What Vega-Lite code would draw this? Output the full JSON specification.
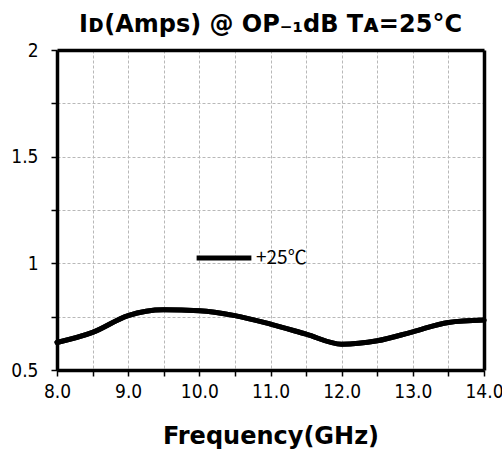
{
  "$schema": "https://vega.github.io/schema/vega-lite/v6.json",
  "width": 427,
  "height": 320,
  "autosize": {"type": "none"},
  "padding": {"left": 57, "top": 50, "right": 18, "bottom": 83},
  "background": "white",
  "title": {
    "text": "Iᴅ(Amps) @ OP₋₁dB Tᴀ=25°C",
    "font": "DejaVu Sans",
    "fontSize": 24,
    "fontWeight": "bold",
    "color": "black",
    "anchor": "middle",
    "offset": 4
  },
  "config": {
    "view": {"stroke": null},
    "axis": {
      "labelFont": "DejaVu Sans Condensed",
      "labelFontSize": 19,
      "labelColor": "black",
      "titleFont": "DejaVu Sans",
      "titleColor": "black",
      "domain": true,
      "domainColor": "black",
      "domainWidth": 3.5,
      "tickColor": "black",
      "tickWidth": 1.5,
      "tickSize": 6,
      "gridColor": "#b8b8b8",
      "gridDash": [3, 2],
      "gridWidth": 1
    }
  },
  "data": {
    "values": [
      {"f": 8.0, "i": 0.629, "s": "+25℃"},
      {"f": 8.5, "i": 0.676, "s": "+25℃"},
      {"f": 9.0, "i": 0.755, "s": "+25℃"},
      {"f": 9.5, "i": 0.782, "s": "+25℃"},
      {"f": 10.0, "i": 0.778, "s": "+25℃"},
      {"f": 10.5, "i": 0.755, "s": "+25℃"},
      {"f": 11.0, "i": 0.715, "s": "+25℃"},
      {"f": 11.5, "i": 0.668, "s": "+25℃"},
      {"f": 12.0, "i": 0.621, "s": "+25℃"},
      {"f": 12.5, "i": 0.637, "s": "+25℃"},
      {"f": 13.0, "i": 0.679, "s": "+25℃"},
      {"f": 13.5, "i": 0.723, "s": "+25℃"},
      {"f": 14.0, "i": 0.734, "s": "+25℃"}
    ]
  },
  "layer": [
    {
      "mark": {"type": "line", "interpolate": "monotone", "strokeWidth": 5, "strokeCap": "round"},
      "encoding": {
        "x": {
          "field": "f",
          "type": "quantitative",
          "scale": {"domain": [8, 14], "nice": false, "zero": false},
          "axis": {
            "values": [8, 8.5, 9, 9.5, 10, 10.5, 11, 11.5, 12, 12.5, 13, 13.5, 14],
            "labelExpr": "datum.value % 1 === 0 ? format(datum.value, '.1f') : ''",
            "title": "Frequency(GHz)",
            "titleFontSize": 24,
            "titleFontWeight": "bold",
            "titlePadding": 23,
            "labelPadding": 6,
            "labelDx": -2,
            "labelFlush": false
          }
        },
        "y": {
          "field": "i",
          "type": "quantitative",
          "scale": {"domain": [0.5, 2], "nice": false, "zero": false},
          "axis": {
            "values": [0.5, 0.75, 1, 1.25, 1.5, 1.75, 2],
            "labelExpr": "(datum.value * 2) % 1 === 0 ? '' + datum.value : ''",
            "title": null,
            "labelPadding": 13,
            "labelFlush": false
          }
        },
        "color": {
          "field": "s",
          "type": "nominal",
          "scale": {"range": ["black"]},
          "legend": {
            "title": null,
            "orient": "none",
            "legendX": 137,
            "legendY": 178,
            "symbolType": "stroke",
            "symbolSize": 3000,
            "symbolStrokeWidth": 5,
            "symbolStrokeColor": "black",
            "labelFont": "Noto Sans CJK KR",
            "labelFontSize": 19,
            "labelColor": "black",
            "labelOffset": 2,
            "padding": 0
          }
        }
      }
    },
    {
      "mark": {"type": "line", "interpolate": "monotone", "strokeWidth": 5, "strokeCap": "round", "color": "black"},
      "encoding": {
        "x": {
          "field": "f",
          "type": "quantitative",
          "scale": {"domain": [8, 14], "nice": false, "zero": false},
          "axis": {"orient": "top", "labels": false, "ticks": false, "grid": false, "title": null}
        },
        "y": {
          "field": "i",
          "type": "quantitative",
          "scale": {"domain": [0.5, 2], "nice": false, "zero": false},
          "axis": {"orient": "right", "labels": false, "ticks": false, "grid": false, "title": null}
        }
      }
    }
  ],
  "resolve": {"axis": {"x": "independent", "y": "independent"}}
}
